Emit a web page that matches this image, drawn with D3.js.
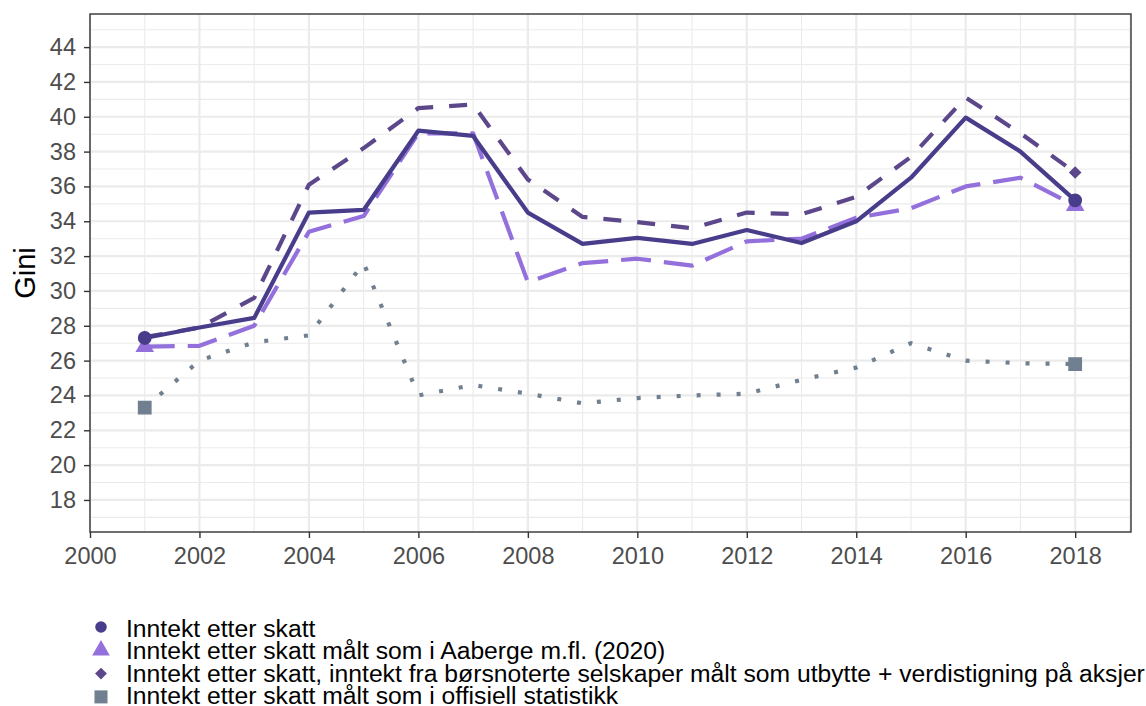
<!DOCTYPE html>
<html>
<head>
<meta charset="utf-8">
<script src="https://cdn.jsdelivr.net/npm/d3@7"></script>
<style>
  body { margin: 0; background: #fff; }
  svg text { font-family: "Liberation Sans", Arial, sans-serif; }
</style>
</head>
<body>
<div id="chart"></div>
<script>
//Years and the four gini series
var years = [2001, 2002, 2003, 2004, 2005, 2006, 2007, 2008, 2009, 2010, 2011, 2012, 2013, 2014, 2015, 2016, 2017, 2018];

var etterSkatt = [27.3, 27.9, 28.45, 34.5, 34.65, 39.2, 38.9, 34.5, 32.7, 33.05, 32.7, 33.5, 32.75, 34.0, 36.5, 39.95, 38.0, 35.2];
var aaberge = [26.8, 26.85, 28.0, 33.4, 34.3, 39.05, 39.05, 30.5, 31.6, 31.85, 31.45, 32.85, 33.0, 34.2, 34.75, 36.0, 36.5, 34.9];
var boersnotert = [27.35, 27.9, 29.6, 36.1, 38.2, 40.5, 40.7, 36.4, 34.25, 33.95, 33.6, 34.5, 34.4, 35.4, 37.7, 41.1, 39.05, 36.8];
var offisiell = [23.3, 26.0, 27.05, 27.45, 31.6, 24.0, 24.6, 24.1, 23.55, 23.85, 24.0, 24.1, 24.9, 25.6, 27.0, 26.0, 25.85, 25.8];

var seriesNames = [
    "Inntekt etter skatt",
    "Inntekt etter skatt målt som i Aaberge m.fl. (2020)",
    "Inntekt etter skatt, inntekt fra børsnoterte selskaper målt som utbytte + verdistigning på aksjer",
    "Inntekt etter skatt målt som i offisiell statistikk"
];

var xTicks = [2000, 2002, 2004, 2006, 2008, 2010, 2012, 2014, 2016, 2018];
var yTicks = [18, 20, 22, 24, 26, 28, 30, 32, 34, 36, 38, 40, 42, 44];

//diamond = square turned 45 degrees, like in ggplot
var series = [
    { name: seriesNames[0], values: etterSkatt, color: "#483D8B", dash: null, shape: d3.symbolCircle, size: 150, legSize: 105, rot: 0 },
    { name: seriesNames[1], values: aaberge, color: "#9370DB", dash: "30,13", shape: d3.symbolTriangle, size: 150, legSize: 135, rot: 0 },
    { name: seriesNames[2], values: boersnotert, color: "#5D478B", dash: "18,16", shape: d3.symbolSquare, size: 80, legSize: 70, rot: 45 },
    { name: seriesNames[3], values: offisiell, color: "#708090", dash: "4,16", shape: d3.symbolSquare, size: 190, legSize: 170, rot: 0 }
];

var width = 1146, height = 706;
var mLeft = 90, mRight = 1131, mTop = 14, mBottom = 532;

var svg = d3.select("#chart").append("svg")
    .attr("width", width)
    .attr("height", height);

var x = d3.scaleLinear().domain([2000, 2019.02]).range([mLeft, mRight]);
var y = d3.scaleLinear().domain([16.16, 45.9]).range([mBottom, mTop]);

//grid, minor first then major
var grid = svg.append("g");
grid.selectAll(".ymin").data(d3.range(17, 46, 2)).enter().append("line")
    .attr("x1", mLeft).attr("x2", mRight)
    .attr("y1", function (d) { return y(d); }).attr("y2", function (d) { return y(d); })
    .attr("stroke", "#EBEBEB").attr("stroke-width", 1.1);
grid.selectAll(".xmin").data(d3.range(2001, 2020, 2)).enter().append("line")
    .attr("y1", mTop).attr("y2", mBottom)
    .attr("x1", function (d) { return x(d); }).attr("x2", function (d) { return x(d); })
    .attr("stroke", "#EBEBEB").attr("stroke-width", 1.1);
grid.selectAll(".ymaj").data(yTicks).enter().append("line")
    .attr("x1", mLeft).attr("x2", mRight)
    .attr("y1", function (d) { return y(d); }).attr("y2", function (d) { return y(d); })
    .attr("stroke", "#EBEBEB").attr("stroke-width", 2.2);
grid.selectAll(".xmaj").data(xTicks).enter().append("line")
    .attr("y1", mTop).attr("y2", mBottom)
    .attr("x1", function (d) { return x(d); }).attr("x2", function (d) { return x(d); })
    .attr("stroke", "#EBEBEB").attr("stroke-width", 2.2);

//lines
var line = d3.line()
    .x(function (d, i) { return x(years[i]); })
    .y(function (d) { return y(d); });

svg.selectAll(".serie").data(series.slice().reverse()).enter().append("path")
    .attr("d", function (d) { return line(d.values); })
    .attr("fill", "none")
    .attr("stroke", function (d) { return d.color; })
    .attr("stroke-width", 4.2)
    .attr("stroke-dasharray", function (d) { return d.dash; })
    .attr("stroke-linejoin", "round");

//end point markers
series.slice().reverse().forEach(function (s) {
    var n = s.values.length;
    [0, n - 1].forEach(function (i) {
        svg.append("path")
            .attr("d", d3.symbol().type(s.shape).size(s.size))
            .attr("transform", "translate(" + x(years[i]) + "," + y(s.values[i]) + ") rotate(" + s.rot + ")")
            .attr("fill", s.color);
    });
});

//panel border
svg.append("rect")
    .attr("x", mLeft).attr("y", mTop)
    .attr("width", mRight - mLeft).attr("height", mBottom - mTop)
    .attr("fill", "none").attr("stroke", "#333333").attr("stroke-width", 1.4);

//axes
var yAxis = svg.append("g")
    .attr("transform", "translate(" + mLeft + ",0)")
    .call(d3.axisLeft(y).tickValues(yTicks).tickSize(6).tickPadding(8));
var xAxis = svg.append("g")
    .attr("transform", "translate(0," + mBottom + ")")
    .call(d3.axisBottom(x).tickValues(xTicks).tickFormat(d3.format("d")).tickSize(6).tickPadding(9));
[xAxis, yAxis].forEach(function (a) {
    a.select(".domain").remove();
    a.selectAll(".tick line").attr("stroke", "#333333").attr("stroke-width", 1.4);
    a.selectAll(".tick text").attr("fill", "#4D4D4D").attr("font-size", "23.5px")
        .style("font-family", "'Liberation Sans', Arial, sans-serif");
});

svg.append("text")
    .attr("transform", "translate(35," + ((mTop + mBottom) / 2) + ") rotate(-90)")
    .attr("text-anchor", "middle")
    .attr("font-size", "29px")
    .attr("fill", "black")
    .text("Gini");

//legend
var legend = svg.selectAll(".legend").data(series).enter().append("g");
legend.append("path")
    .attr("d", function (d) { return d3.symbol().type(d.shape).size(d.legSize)(); })
    .attr("transform", function (d, i) { return "translate(101," + (627 + i * 23.3) + ") rotate(" + d.rot + ")"; })
    .attr("fill", function (d) { return d.color; });
legend.append("text")
    .attr("x", 126)
    .attr("y", function (d, i) { return 637 + i * 22.3; })
    .attr("font-size", "24.7px")
    .attr("fill", "black")
    .text(function (d) { return d.name; });
</script>
</body>
</html>
